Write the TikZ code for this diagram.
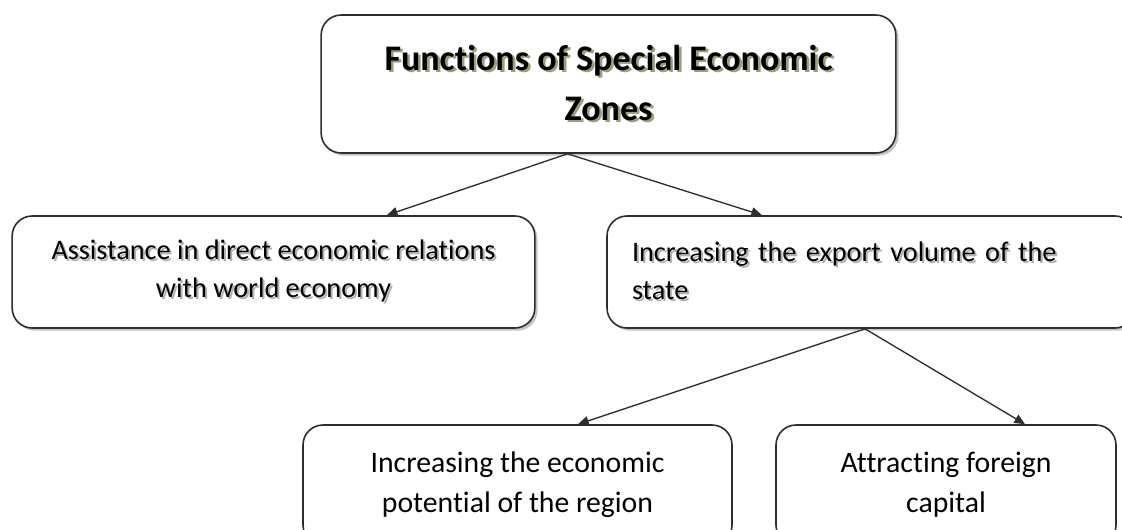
\documentclass[tikz,border=0pt]{standalone}
\usepackage{fontspec}
\setmainfont{Carlito}[Ligatures=NoCommon]
\usetikzlibrary{arrows.meta,shadows}
\definecolor{boxline}{HTML}{2E2E2E}
\definecolor{boxshadow}{HTML}{C4C4C4}
\definecolor{titleshadow}{HTML}{97A27A}
\definecolor{textshadow}{HTML}{B0B0B0}
\newcommand{\shtxt}[3]{\makebox[0pt][l]{\hspace{#2}\raisebox{-#2}{\textcolor{#1}{#3}}}#3}
\tikzset{
  box/.style={draw=boxline, line width=1.2pt, rounded corners=15pt, fill=white,
    inner sep=0pt, align=center},
  shbox/.style={box, drop shadow={shadow xshift=2pt, shadow yshift=-2pt, fill=boxshadow, opacity=1}},
  conn/.style={draw=boxline, line width=1pt, -{Triangle[length=8pt,width=7pt]}},
  titlefont/.style={font=\fontsize{27}{37.5}\selectfont\bfseries},
  midfont/.style={font=\fontsize{21.2}{28.5}\selectfont},
  lowfont/.style={font=\fontsize{22.3}{30}\selectfont},
}
\begin{document}
\begin{tikzpicture}[x=0.75pt,y=-0.75pt]
\useasboundingbox (0,0) rectangle (1122,529);
\clip (0,0) rectangle (1122,529);
\fill[white] (0,0) rectangle (1122,529);

\node[shbox, titlefont, minimum width=431pt, minimum height=103.5pt] (top) at (608.5,84)
  {\shtxt{titleshadow}{2pt}{Functions of Special Economic}\\\shtxt{titleshadow}{2pt}{Zones}};

\node[shbox, midfont, minimum width=392pt, minimum height=84pt] (left) at (273.5,272)
  {\shtxt{textshadow}{1.5pt}{Assistance in direct economic relations}\\\shtxt{textshadow}{1.5pt}{with world economy}};

\node[shbox, midfont, align=left, text width=358.5pt, inner xsep=18.75pt, minimum height=84pt] (right) at (871,272)
  {\shtxt{textshadow}{1.5pt}{Increasing the export volume of the}\\\shtxt{textshadow}{1.5pt}{state}};

\node[box, lowfont, minimum width=321.75pt, minimum height=90pt] (bl) at (517.5,485)
  {Increasing the economic\\potential of the region};

\node[box, lowfont, minimum width=255pt, minimum height=90pt] (br) at (946,485)
  {Attracting foreign\\capital};

\coordinate (topout) at ([xshift=-30.75pt]top.south);
\coordinate (leftin) at ([xshift=85pt]left.north);
\coordinate (rightin) at ([xshift=-81.75pt]right.north);
\coordinate (rightout) at ([xshift=-4.5pt]right.south);
\coordinate (blin) at ([xshift=45.4pt]bl.north);
\coordinate (brin) at ([xshift=59.25pt]br.north);

\draw[conn] (topout) -- (leftin);
\draw[conn] (topout) -- (rightin);
\draw[conn] (rightout) -- (blin);
\draw[conn] (rightout) -- (brin);
\end{tikzpicture}
\end{document}
